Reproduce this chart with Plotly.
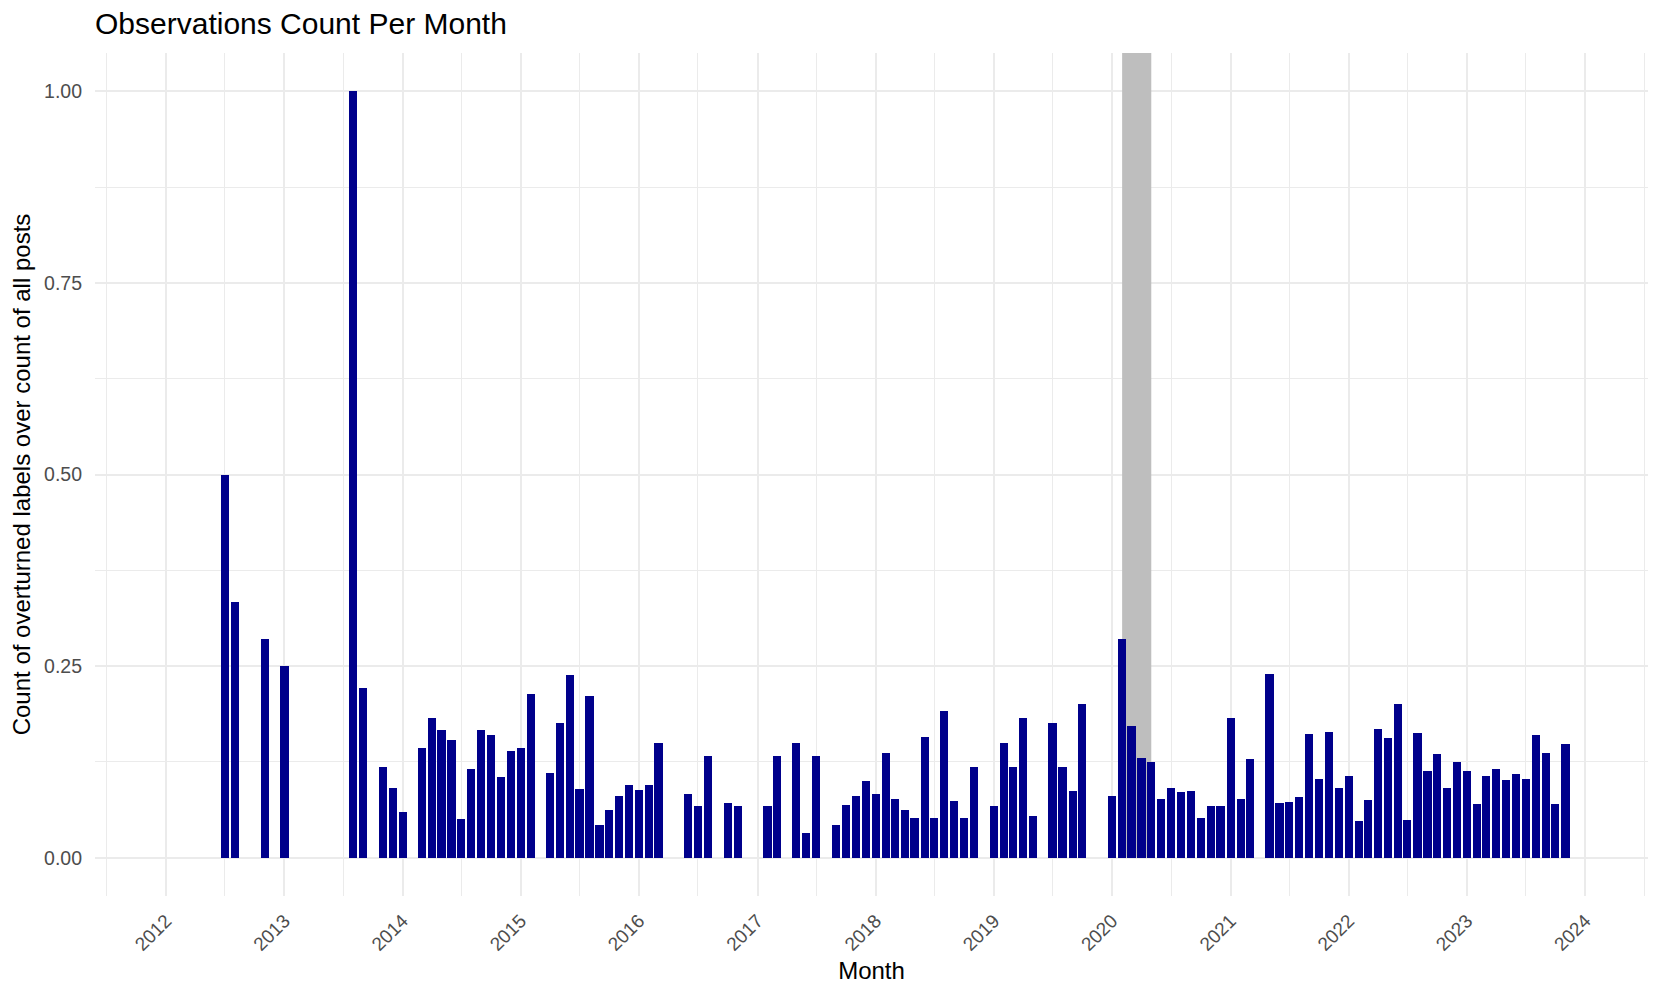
import plotly.graph_objects as go

# monthly ratio of overturned labels to all posts
MESES = [
    "2012-07", "2012-08", "2012-11", "2013-01", "2013-08", "2013-09", "2013-11", "2013-12",
    "2014-01", "2014-03", "2014-04", "2014-05", "2014-06", "2014-07", "2014-08", "2014-09",
    "2014-10", "2014-11", "2014-12", "2015-01", "2015-02", "2015-04", "2015-05", "2015-06",
    "2015-07", "2015-08", "2015-09", "2015-10", "2015-11", "2015-12", "2016-01", "2016-02",
    "2016-03", "2016-06", "2016-07", "2016-08", "2016-10", "2016-11", "2017-02", "2017-03",
    "2017-05", "2017-06", "2017-07", "2017-09", "2017-10", "2017-11", "2017-12", "2018-01",
    "2018-02", "2018-03", "2018-04", "2018-05", "2018-06", "2018-07", "2018-08", "2018-09",
    "2018-10", "2018-11", "2019-01", "2019-02", "2019-03", "2019-04", "2019-05", "2019-07",
    "2019-08", "2019-09", "2019-10", "2020-01", "2020-02", "2020-03", "2020-04", "2020-05",
    "2020-06", "2020-07", "2020-08", "2020-09", "2020-10", "2020-11", "2020-12", "2021-01",
    "2021-02", "2021-03", "2021-05", "2021-06", "2021-07", "2021-08", "2021-09", "2021-10",
    "2021-11", "2021-12", "2022-01", "2022-02", "2022-03", "2022-04", "2022-05", "2022-06",
    "2022-07", "2022-08", "2022-09", "2022-10", "2022-11", "2022-12", "2023-01", "2023-02",
    "2023-03", "2023-04", "2023-05", "2023-06", "2023-07", "2023-08", "2023-09", "2023-10",
    "2023-11",
]
RATIO = [
    0.500, 0.333, 0.286, 0.250, 1.000, 0.222, 0.118, 0.091,
    0.059, 0.143, 0.182, 0.167, 0.154, 0.050, 0.116, 0.167,
    0.160, 0.105, 0.139, 0.143, 0.214, 0.111, 0.176, 0.238,
    0.089, 0.211, 0.043, 0.062, 0.080, 0.095, 0.088, 0.095,
    0.150, 0.083, 0.067, 0.133, 0.072, 0.067, 0.067, 0.133,
    0.150, 0.032, 0.133, 0.043, 0.069, 0.080, 0.100, 0.083,
    0.137, 0.077, 0.062, 0.052, 0.157, 0.052, 0.191, 0.074,
    0.052, 0.118, 0.067, 0.150, 0.118, 0.182, 0.055, 0.176,
    0.118, 0.087, 0.200, 0.080, 0.286, 0.172, 0.130, 0.125,
    0.077, 0.091, 0.086, 0.087, 0.052, 0.067, 0.067, 0.182,
    0.077, 0.129, 0.240, 0.071, 0.073, 0.079, 0.161, 0.103,
    0.164, 0.091, 0.107, 0.048, 0.075, 0.168, 0.156, 0.200,
    0.049, 0.163, 0.113, 0.135, 0.091, 0.125, 0.113, 0.070,
    0.106, 0.116, 0.102, 0.109, 0.103, 0.160, 0.137, 0.070,
    0.148,
]
# shaded period
PERIODO = ("2020-02-01", "2020-05-01")

FONTE = "Liberation Sans, Arial, sans-serif"
GRADE = "#EBEBEB"
DIA_MS = 86400000

# the page body keeps its 8px margin, so the figure is 16px smaller than the window
LARG, ALT = 1645, 981

fig = go.Figure(go.Bar(
    x=[m + "-01" for m in MESES], y=RATIO,
    width=25.2 * DIA_MS,
    marker=dict(color="#00008B", line=dict(width=0)),
))

fig.add_shape(
    type="rect", xref="x", yref="y",
    x0=PERIODO[0], x1=PERIODO[1], y0=0, y1=1.05,
    fillcolor="#BEBEBE", line=dict(width=0), layer="between",
)

fig.update_layout(
    width=LARG, height=ALT,
    paper_bgcolor="white", plot_bgcolor="white",
    font=dict(family=FONTE, color="black"),
    margin=dict(l=87, r=5, t=45, b=93, autoexpand=False),
    showlegend=False,
    bargap=0,
    title=dict(text="Observations Count Per Month", font=dict(size=30, color="black"),
               x=87 / LARG, xanchor="left", y=1 - 15 / ALT, yanchor="middle"),
    xaxis=dict(
        type="date", automargin=False,
        range=["2011-05-27", "2024-07-13"],
        dtick="M12", tick0="2012-01-01", tickformat="%Y",
        tickangle=-45, ticks="",
        tickfont=dict(size=19, color="#4D4D4D"),
        ticklabelstandoff=9,
        showgrid=True, gridcolor=GRADE, gridwidth=2.2,
        minor=dict(dtick="M6", tick0="2012-01-01", showgrid=True,
                   gridcolor=GRADE, gridwidth=1.2),
        zeroline=False, showline=False,
        title=dict(text="Month", font=dict(size=24, color="black"), standoff=8),
    ),
    yaxis=dict(
        automargin=False,
        range=[-0.05, 1.05],
        dtick=0.25, tick0=0, tickformat=".2f", ticks="",
        tickfont=dict(size=19.5, color="#4D4D4D"),
        ticklabelstandoff=12,
        showgrid=True, gridcolor=GRADE, gridwidth=2.2,
        minor=dict(dtick=0.125, tick0=0, showgrid=True,
                   gridcolor=GRADE, gridwidth=1.2),
        zeroline=False, showline=False,
        title=dict(text="Count of overturned labels over count of all posts",
                   font=dict(size=24, color="black"), standoff=6),
    ),
)

fig.write_html("out.html")
